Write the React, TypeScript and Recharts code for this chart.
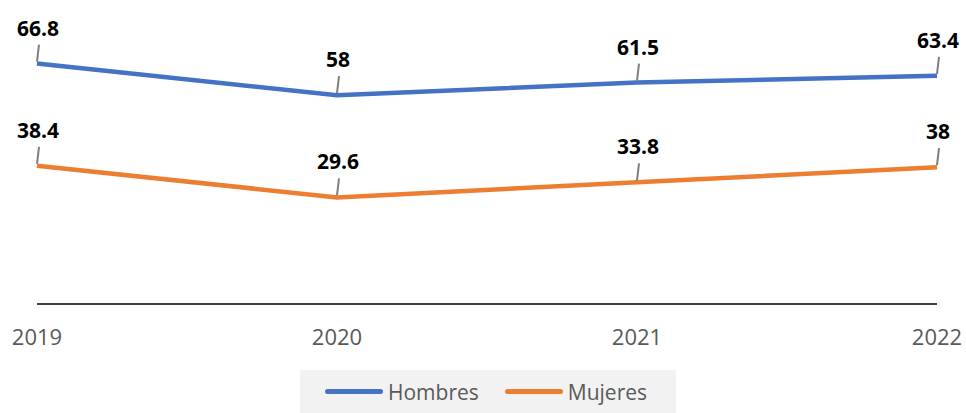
import React from "react";
import { LineChart, Line, XAxis, YAxis, Legend, LabelList } from "recharts";

const years = ["2019", "2020", "2021", "2022"];
const hombres = [66.8, 58, 61.5, 63.4];
const mujeres = [38.4, 29.6, 33.8, 38];
const seriesNames = { hombres: "Hombres", mujeres: "Mujeres" };
const colors = { hombres: "#4472C4", mujeres: "#ED7D31" };

const data = years.map((y, i) => ({ year: y, hombres: hombres[i], mujeres: mujeres[i] }));

const FONT = "'Open Sans', 'Noto Sans', sans-serif";

const LeaderLabel = (props: any) => {
  const { x, y, value } = props;
  return (
    <g>
      <line x1={x} y1={y - 2} x2={x + 2} y2={y - 19} stroke="#7f7f7f" strokeWidth={2} />
      <text
        x={x + 1}
        y={y - 36}
        textAnchor="middle"
        dominantBaseline="central"
        fontFamily={FONT}
        fontWeight={700}
        fontSize={21}
        fill="#000"
      >
        {value}
      </text>
    </g>
  );
};

const LegendContent = (props: any) => {
  const { payload } = props;
  return (
    <div
      style={{
        background: "#f2f2f2",
        height: 43,
        display: "flex",
        alignItems: "center",
        paddingLeft: 25,
        boxSizing: "border-box",
        fontFamily: FONT,
        fontSize: 21,
        color: "#595959",
      }}
    >
      {payload.map((p: any, i: number) => (
        <div key={i} style={{ display: "flex", alignItems: "center", marginRight: 26 }}>
          <div style={{ width: 58, height: 5, borderRadius: 3, background: p.color, marginRight: 5 }} />
          <span>{p.value}</span>
        </div>
      ))}
    </div>
  );
};

export default function App() {
  return (
    <div style={{ position: "absolute", left: 0, top: 0, background: "#fff" }}>
      <LineChart
        width={966}
        height={413}
        data={data}
        margin={{ top: 16, right: 29, bottom: 16, left: 37 }}
      >
        <XAxis
          dataKey="year"
          axisLine={{ stroke: "#000", strokeWidth: 1.5 }}
          tickLine={false}
          height={50}
          tick={{ fill: "#595959", fontSize: 22, fontFamily: FONT }}
          tickMargin={19}
          padding={{ left: 0, right: 0 }}
          interval={0}
        />
        <YAxis hide domain={[0, 80]} width={0} />
        <Legend
          verticalAlign="bottom"
          content={<LegendContent />}
          wrapperStyle={{ left: 300, bottom: 0, width: 376, height: 43 }}
        />
        <Line
          type="linear"
          dataKey="hombres"
          name={seriesNames.hombres}
          stroke={colors.hombres}
          strokeWidth={4.5}
          dot={false}
          isAnimationActive={false}
        >
          <LabelList dataKey="hombres" content={<LeaderLabel />} />
        </Line>
        <Line
          type="linear"
          dataKey="mujeres"
          name={seriesNames.mujeres}
          stroke={colors.mujeres}
          strokeWidth={4.5}
          dot={false}
          isAnimationActive={false}
        >
          <LabelList dataKey="mujeres" content={<LeaderLabel />} />
        </Line>
      </LineChart>
    </div>
  );
}
